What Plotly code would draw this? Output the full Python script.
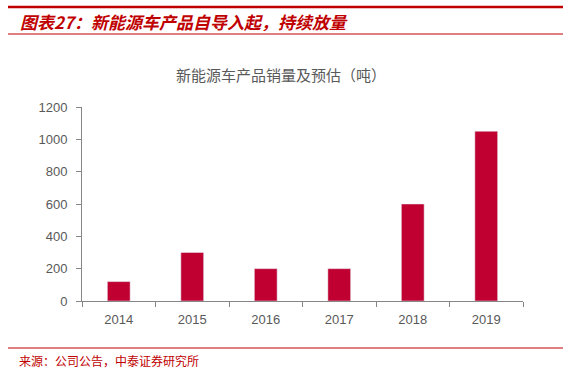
import plotly.graph_objects as go

years = ["2014", "2015", "2016", "2017", "2018", "2019"]
sales = [120, 300, 200, 200, 600, 1050]
y_ticks = [0, 200, 400, 600, 800, 1000, 1200]

W, H = 568, 371
ML, MR, MT, MB = 82, 45, 107, 70
PW = W - ML - MR
PH = H - MT - MB


def px(x):
    return (x - ML) / PW


def py(y):
    return (H - MB - y) / PH


fig = go.Figure(go.Bar(x=years, y=sales, marker_color="#C00030", width=0.31))

red = "#C00000"
shapes = [
    dict(type="line", xref="paper", yref="paper", x0=px(8), x1=px(563), y0=py(7), y1=py(7),
         line=dict(color=red, width=2.5)),
    dict(type="line", xref="paper", yref="paper", x0=px(8), x1=px(563), y0=py(34), y1=py(34),
         line=dict(color=red, width=1.2)),
    dict(type="line", xref="paper", yref="paper", x0=px(8), x1=px(563), y0=py(348), y1=py(348),
         line=dict(color=red, width=1.2)),
]

annotations = [
    dict(text="<b><i>图表27：新能源车产品自导入起，持续放量</i></b>", xref="paper", yref="paper",
         x=px(18), y=py(21), xanchor="left", yanchor="middle", showarrow=False,
         font=dict(family="Noto Sans CJK SC", size=17, color=red)),
    dict(text="新能源车产品销量及预估（吨）", xref="paper", yref="paper",
         x=px(281), y=py(75), xanchor="center", yanchor="middle", showarrow=False,
         font=dict(family="Noto Sans CJK SC", size=15, color="#595959")),
    dict(text="来源：公司公告，中泰证券研究所", xref="paper", yref="paper",
         x=px(17), y=py(360), xanchor="left", yanchor="middle", showarrow=False,
         font=dict(family="Noto Sans CJK SC", size=12, color=red)),
]

fig.update_layout(
    width=W, height=H,
    margin=dict(l=ML, r=MR, t=MT, b=MB, pad=0),
    plot_bgcolor="white", paper_bgcolor="white",
    showlegend=False,
    shapes=shapes, annotations=annotations,
    font=dict(family="Liberation Sans, Arial", size=13, color="#595959"),
)
fig.update_xaxes(
    type="category", showline=True, linecolor="#868686", linewidth=1,
    ticks="outside", tickson="boundaries", ticklen=5, tickcolor="#868686",
    showgrid=False, tickfont=dict(size=13, color="#595959"), ticklabelstandoff=6,
)
fig.update_yaxes(
    range=[0, 1200], tickvals=y_ticks, showline=True, linecolor="#868686", linewidth=1,
    ticks="outside", ticklen=5, tickcolor="#868686", showgrid=False, zeroline=False,
    tickfont=dict(size=13, color="#595959"), ticklabelstandoff=6,
)

fig.write_html(
    "out.html",
    config={"displayModeBar": False},
    post_script="document.body.style.margin='0';document.body.style.overflow='hidden';",
)
